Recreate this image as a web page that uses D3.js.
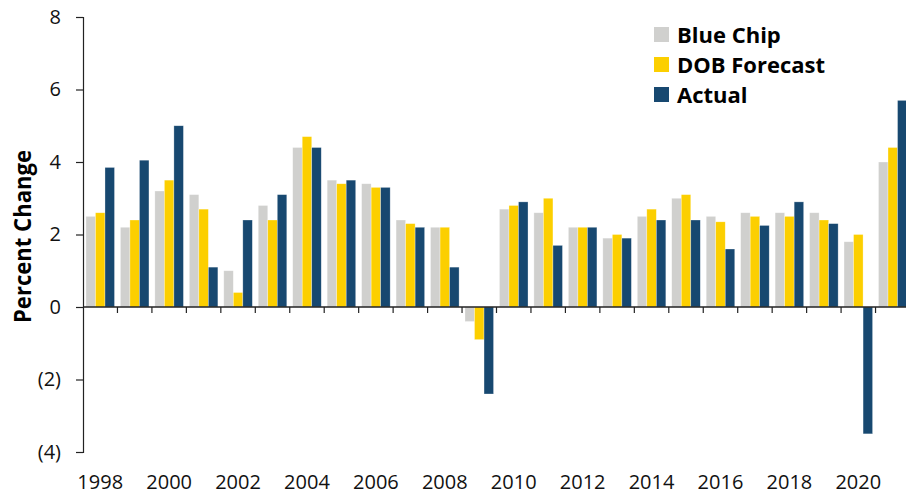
<!DOCTYPE html>
<html>
<head>
<meta charset="utf-8">
<script src="https://cdn.jsdelivr.net/npm/d3@7"></script>
<style>
  html, body { margin: 0; padding: 0; background: #fff; }
  svg { display: block; font-family: "Open Sans", "Noto Sans", sans-serif; }
</style>
</head>
<body>
<svg id="chart" width="906" height="495"></svg>
<script>
const years = [1998,1999,2000,2001,2002,2003,2004,2005,2006,2007,2008,2009,2010,2011,2012,2013,2014,2015,2016,2017,2018,2019,2020,2021];
const seriesNames = ["Blue Chip", "DOB Forecast", "Actual"];
const blueChip    = [2.5, 2.2, 3.2, 3.1, 1.0, 2.8, 4.4, 3.5, 3.4, 2.4, 2.2, -0.4, 2.7, 2.6, 2.2, 1.9, 2.5, 3.0, 2.5, 2.6, 2.6, 2.6, 1.8, 4.0];
const dobForecast = [2.6, 2.4, 3.5, 2.7, 0.4, 2.4, 4.7, 3.4, 3.3, 2.3, 2.2, -0.9, 2.8, 3.0, 2.2, 2.0, 2.7, 3.1, 2.35, 2.5, 2.5, 2.4, 2.0, 4.4];
const actual      = [3.85, 4.05, 5.0, 1.1, 2.4, 3.1, 4.4, 3.5, 3.3, 2.2, 1.1, -2.4, 2.9, 1.7, 2.2, 1.9, 2.4, 2.4, 1.6, 2.25, 2.9, 2.3, -3.5, 5.7];
const yTicks = [-4, -2, 0, 2, 4, 6, 8];
const xLabels = [1998,2000,2002,2004,2006,2008,2010,2012,2014,2016,2018,2020];
const colors = ["#d0d0ce", "#fccf00", "#174870"];

const values = [blueChip, dobForecast, actual];
const svg = d3.select("#chart");

const mLeft = 83, mRight = 910, mTop = 17, mBottom = 452;
const x0 = d3.scaleBand().domain(years).range([mLeft, mRight]).padding(0);
const x1 = d3.scaleBand().domain(seriesNames).range([0, x0.bandwidth()]).paddingInner(0).paddingOuter(0.31);
const y = d3.scaleLinear().domain([-4, 8]).range([mBottom, mTop]);

// bars
const groups = svg.append("g").selectAll("g")
  .data(years).join("g")
  .attr("transform", d => `translate(${x0(d)},0)`);

groups.selectAll("rect")
  .data((d, i) => seriesNames.map((s, k) => ({ s, k, v: values[k][i] })))
  .join("rect")
  .attr("x", d => x1(d.s))
  .attr("width", x1.bandwidth())
  .attr("y", d => y(Math.max(0, d.v)))
  .attr("height", d => Math.abs(y(d.v) - y(0)))
  .attr("fill", d => colors[d.k])
  .attr("stroke", "#ffffff")
  .attr("stroke-opacity", 0.5)
  .attr("stroke-width", 0.6);

// y axis
const yAxis = d3.axisLeft(y).tickValues(yTicks).tickSize(7).tickPadding(15)
  .tickFormat(d => d < 0 ? `(${Math.abs(d)})` : `${d}`);
const gy = svg.append("g").attr("transform", `translate(${mLeft},0)`).call(yAxis);
gy.select(".domain").attr("stroke", "#222").attr("stroke-width", 1.2);
gy.selectAll(".tick line").attr("stroke", "#222").attr("stroke-width", 1.2);
gy.selectAll(".tick text").attr("font-size", 20).attr("fill", "#111")
  .attr("font-family", "'Open Sans', 'Noto Sans', sans-serif");

// x axis at zero
const xAxisG = svg.append("g").attr("transform", `translate(0,${y(0)})`);
xAxisG.append("line").attr("x1", mLeft).attr("x2", 906).attr("y1", 0).attr("y2", 0)
  .attr("stroke", "#222").attr("stroke-width", 1.3);
xAxisG.selectAll("line.tk").data(years.slice(1)).join("line").attr("class", "tk")
  .attr("x1", d => x0(d)).attr("x2", d => x0(d))
  .attr("y1", 0).attr("y2", 6)
  .attr("stroke", "#222").attr("stroke-width", 1.2);

// x labels
svg.append("g").selectAll("text").data(xLabels).join("text")
  .attr("x", d => x0(d) + x0.bandwidth() / 2)
  .attr("y", 489)
  .attr("text-anchor", "middle")
  .attr("font-size", 20)
  .attr("fill", "#111")
  .text(d => d);

// y title
svg.append("text")
  .attr("transform", `translate(31,${(mTop + mBottom) / 2 + 2}) rotate(-90)`)
  .attr("text-anchor", "middle")
  .attr("font-size", 24)
  .attr("font-weight", "bold")
  .attr("fill", "#000")
  .attr("textLength", 173)
  .attr("lengthAdjust", "spacingAndGlyphs")
  .text("Percent Change");

// legend
const lg = svg.append("g").attr("transform", "translate(654,27)");
const items = lg.selectAll("g").data(seriesNames).join("g")
  .attr("transform", (d, i) => `translate(0,${i * 30})`);
items.append("rect").attr("width", 15).attr("height", 15).attr("fill", (d, i) => colors[i]);
items.append("text").attr("x", 23).attr("y", 16)
  .attr("font-size", 22).attr("font-weight", "bold").attr("fill", "#000")
  .text(d => d);
</script>
</body>
</html>
